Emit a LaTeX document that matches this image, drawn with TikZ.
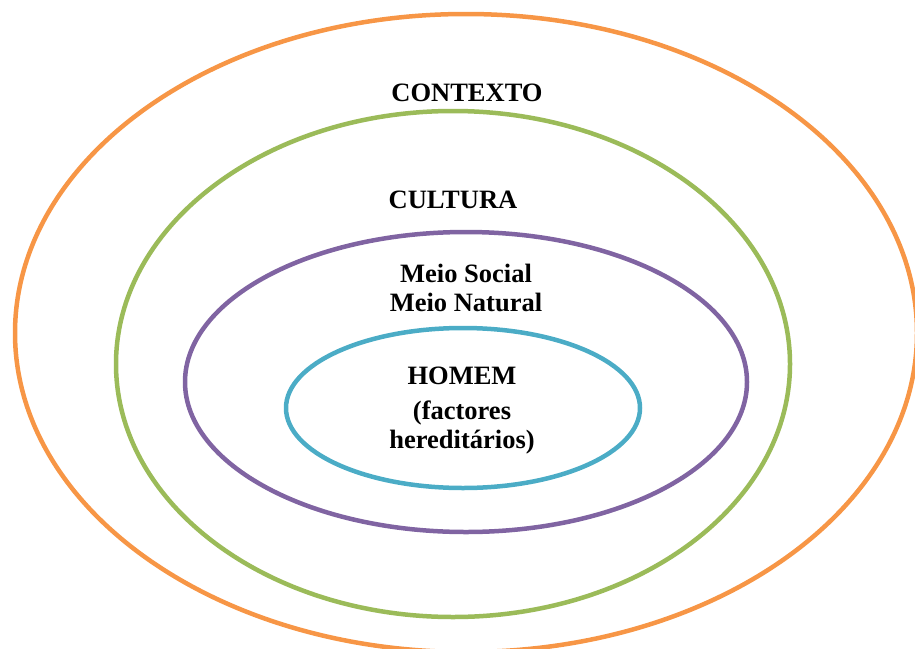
\documentclass[tikz,border=0pt]{standalone}
\usepackage{fontspec}
\setmainfont{Liberation Serif}
\definecolor{corange}{HTML}{F79646}
\definecolor{cgreen}{HTML}{9BBB59}
\definecolor{cpurple}{HTML}{8064A2}
\definecolor{cblue}{HTML}{4BACC6}
\begin{document}
\begin{tikzpicture}[x=1pt,y=-1pt,
  ring/.style={line width=4.5pt},
  lbl/.style={font=\fontsize{26.5}{29}\selectfont\bfseries, align=center, inner sep=0pt}]
\useasboundingbox (0,0) rectangle (915,648);
\clip (0,0) rectangle (915,648);
\draw[ring, corange] (466,333) ellipse [x radius=451, y radius=319];
\draw[ring, cgreen] (453,364) ellipse [x radius=337, y radius=253];
\draw[ring, cpurple] (466,382) ellipse [x radius=281, y radius=150];
\draw[ring, cblue] (463,408) ellipse [x radius=177, y radius=80];
\node[lbl] (contexto) at (467,93) {CONTEXTO};
\node[lbl] (cultura) at (453,200) {CULTURA};
\node[lbl] (meio) at (466,288) {Meio Social\\Meio Natural};
\node[lbl] (homem) at (462,376) {HOMEM};
\node[lbl] (fact) at (462,427) {(factores\\hereditários)};
\end{tikzpicture}
\end{document}
